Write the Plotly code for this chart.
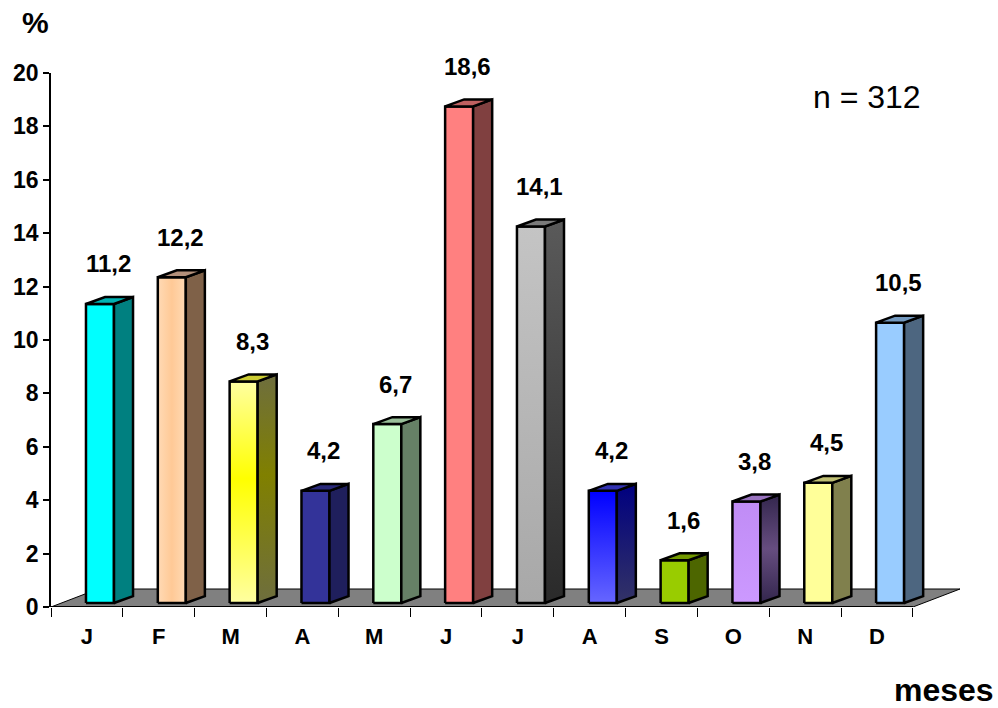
import plotly.graph_objects as go

# ---- data ----
months = ["J", "F", "M", "A", "M", "J", "J", "A", "S", "O", "N", "D"]
values = [11.2, 12.2, 8.3, 4.2, 6.7, 18.6, 14.1, 4.2, 1.6, 3.8, 4.5, 10.5]
value_text = ["11,2", "12,2", "8,3", "4,2", "6,7", "18,6", "14,1", "4,2", "1,6", "3,8", "4,5", "10,5"]
y_ticks = [0, 2, 4, 6, 8, 10, 12, 14, 16, 18, 20]

# ---- style ----
front_col = ["#00FFFF", "#FFCC99", "#FFFF99", "#333399", "#CCFFCC", "#FF8080",
             "#B4B4B4", "#3333FF", "#99CC00", "#CC99FF", "#FFFF99", "#99CCFF"]
side_col = ["#008080", "#7F6148", "#6E6E3E", "#1F1F5C", "#668066", "#804040",
            "#3C3C3C", "#1A1A80", "#4D6600", "#4D3A66", "#80804D", "#4D6680"]
top_col = ["#00B3B3", "#B3907A", "#CCCC33", "#29297A", "#99BF99", "#BF6060",
           "#7A7A7A", "#3333B3", "#739900", "#9973BF", "#BFBF73", "#7399BF"]
front_grad = {
    1: dict(type="horizontal", colorscale=[[0, "#FFDAB5"], [0.5, "#FFC996"], [1, "#FFDAB5"]]),
    2: dict(type="vertical", colorscale=[[0, "#FFFFA0"], [0.56, "#FFFF00"], [1, "#FFFFA0"]]),
    6: dict(type="vertical", colorscale=[[0, "#A8A8A8"], [1, "#C4C4C4"]]),
    7: dict(type="vertical", colorscale=[[0, "#6666FF"], [1, "#0000FF"]]),
    9: dict(type="vertical", colorscale=[[0, "#CC99FF"], [1, "#C08CF5"]]),
}
side_grad = {
    2: dict(type="vertical", colorscale=[[0, "#6E6E3E"], [0.56, "#808000"], [1, "#6E6E3E"]]),
    6: dict(type="vertical", colorscale=[[0, "#2A2A2A"], [1, "#5A5A5A"]]),
    7: dict(type="vertical", colorscale=[[0, "#333366"], [1, "#000080"]]),
    9: dict(type="vertical", colorscale=[[0, "#33264D"], [0.5, "#664D80"], [1, "#33264D"]]),
}

X0, X1 = 0.487, 0.877     # front face within band
DDX, DDY = 0.265, 0.26    # bar depth offset
B0 = 0.15                 # bar base height (perspective)
FDX, FDY = 0.655, 0.674   # floor depth offset
N = len(months)
Y_MAX = 20

fig = go.Figure()

# floor
fig.add_trace(go.Scatter(
    x=[0, N, N + FDX, FDX, 0], y=[0, 0, FDY, FDY, 0],
    mode="lines", fill="toself", fillcolor="#808080",
    line=dict(color="black", width=1), hoverinfo="skip"))
# front axis line
fig.add_trace(go.Scatter(x=[0, N], y=[0, 0], mode="lines",
                         line=dict(color="black", width=2), hoverinfo="skip"))

for i, v in enumerate(values):
    x0, x1 = i + X0, i + X1
    t = B0 + v
    # front
    kw = dict(fillgradient=front_grad[i]) if i in front_grad else dict(fillcolor=front_col[i])
    fig.add_trace(go.Scatter(
        x=[x0, x1, x1, x0, x0], y=[B0, B0, t, t, B0],
        mode="lines", fill="toself", line=dict(color="black", width=2.5),
        name=months[i], hoverinfo="skip", **kw))
    # side
    kw = dict(fillgradient=side_grad[i]) if i in side_grad else dict(fillcolor=side_col[i])
    fig.add_trace(go.Scatter(
        x=[x1, x1 + DDX, x1 + DDX, x1, x1], y=[B0, B0 + DDY, t + DDY, t, B0],
        mode="lines", fill="toself", line=dict(color="black", width=2.5),
        hoverinfo="skip", **kw))
    # top
    fig.add_trace(go.Scatter(
        x=[x0, x1, x1 + DDX, x0 + DDX, x0], y=[t, t, t + DDY, t + DDY, t],
        mode="lines", fill="toself", fillcolor=top_col[i],
        line=dict(color="black", width=2.5), hoverinfo="skip"))
    # value label (paper y so labels above the axis top are not hidden)
    fig.add_annotation(x=i + 0.8, yref="paper", y=(t + 1.5) / Y_MAX,
                       text=value_text[i], showarrow=False,
                       xanchor="center", yanchor="middle",
                       font=dict(family="Liberation Sans", size=24, color="black",
                                 weight="bold"))

fig.add_annotation(x=11.36, y=19.1, text="n = 312", showarrow=False,
                   xanchor="center", yanchor="middle",
                   font=dict(family="Liberation Sans", size=32, color="black"))
fig.add_annotation(xref="paper", yref="paper", x=-0.0176, y=1.0955, text="%",
                   showarrow=False, xanchor="center", yanchor="middle",
                   font=dict(family="Liberation Sans", size=30, color="black", weight="bold"))
fig.add_annotation(xref="paper", yref="paper", x=0.982, y=-0.155, text="meses",
                   showarrow=False, xanchor="center", yanchor="middle",
                   font=dict(family="Liberation Sans", size=32, color="black", weight="bold"))

fig.update_layout(
    width=998, height=708,
    margin=dict(l=51, r=38, t=73, b=101),
    paper_bgcolor="white", plot_bgcolor="white",
    showlegend=False,
    xaxis=dict(range=[0, N + FDX], showgrid=False, zeroline=False, showline=False,
               tickvals=[i + 0.5 for i in range(N)], ticktext=months, ticks="",
               ticklabelstandoff=14,
               tickfont=dict(family="Liberation Sans", size=22, color="black", weight="bold"),
               minor=dict(tick0=0, dtick=1, ticks="outside", ticklen=9,
                          tickcolor="black", tickwidth=1, showgrid=False)),
    yaxis=dict(range=[0, Y_MAX], showgrid=False, zeroline=False, showline=True,
               linecolor="black", linewidth=1.5, tickvals=y_ticks,
               ticks="outside", ticklen=6, tickcolor="black", tickwidth=1.5,
               tickfont=dict(family="Liberation Sans", size=23, color="black", weight="bold")),
)

fig.write_html("out.html")
